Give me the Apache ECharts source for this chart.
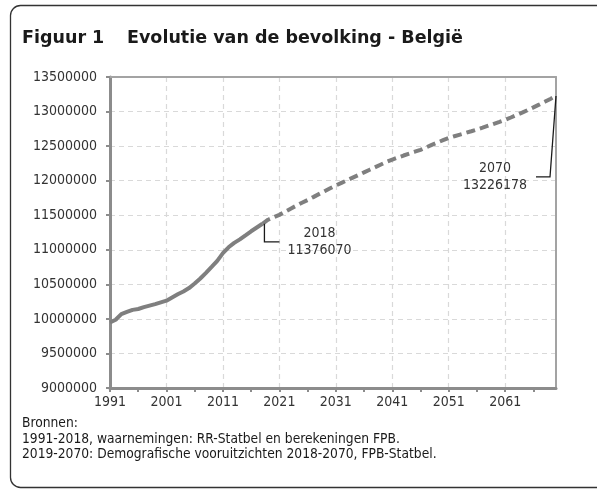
<!DOCTYPE html>
<html>
<head>
<meta charset="utf-8">
<script src="https://cdn.jsdelivr.net/npm/echarts@6/dist/echarts.min.js"></script>
<style>
  html, body { margin: 0; padding: 0; background: #fff; }
  #chart { width: 597px; height: 491px; }
</style>
</head>
<body>
<div id="chart"></div>
<script>
// Bevolking België op 1 januari: waarnemingen 1991-2018, vooruitzichten 2019-2070
const years = [];
for (let y = 1991; y <= 2070; y++) years.push(String(y));

const observed = [
  9947782, 9986975, 10068319, 10100631, 10130574, 10143047, 10170226, 10192264,
  10213752, 10239085, 10263414, 10309725, 10355844, 10396421, 10445852, 10511382,
  10584534, 10666866, 10753080, 10839905, 10951266, 11035948, 11099554, 11150516,
  11209044, 11267910, 11322088, 11376070
];

const projected = [
  11435000, 11470000, 11505000, 11550000, 11595000, 11638000, 11680000, 11720000,
  11762000, 11805000, 11848000, 11890000, 11930000, 11968000, 12006000, 12044000,
  12082000, 12120000, 12158000, 12196000, 12234000, 12272000, 12305000, 12335000,
  12364000, 12392000, 12419000, 12446000, 12482000, 12518000, 12552000, 12586000,
  12618000, 12643000, 12667000, 12691000, 12715000, 12740000, 12767000, 12795000,
  12823000, 12851000, 12880000, 12914000, 12949000, 12985000, 13022000, 13060000,
  13100000, 13141000, 13183000, 13226178
];

const annotations = [
  { year: '2018', value: 11376070 },
  { year: '2070', value: 13226178 }
];

const FONT = '"DejaVu Sans Condensed", "DejaVu Sans", sans-serif';
const TITLE_FONT = 'bold 17.5px "DejaVu Sans", sans-serif';
const LINE = '#7f7f7f';
const AXIS = '#8c8c8c';

// solid tot 2018, gestreept vanaf 2018
const solidData = years.map((y, i) => i < observed.length ? observed[i] : '-');
const dashData = years.map((y, i) => {
  if (i < observed.length - 1) return '-';
  if (i === observed.length - 1) return observed[i];
  return projected[i - observed.length];
});

const chart = echarts.init(document.getElementById('chart'));

chart.setOption({
  animation: false,
  textStyle: { fontFamily: FONT },
  graphic: [
    {
      type: 'rect', silent: true, z: -1,
      shape: { x: 10.5, y: 5.5, width: 640, height: 482, r: 10 },
      style: { fill: '#fff', stroke: '#333', lineWidth: 1.3 }
    },
    {
      type: 'text', left: 22, top: 29,
      style: { text: 'Figuur 1', font: TITLE_FONT, fill: '#1a1a1a' }
    },
    {
      type: 'text', left: 127, top: 29,
      style: { text: 'Evolutie van de bevolking - België', font: TITLE_FONT, fill: '#1a1a1a' }
    },
    {
      type: 'text', left: 22, top: 416,
      style: {
        text: 'Bronnen:\n1991-2018, waarnemingen: RR-Statbel en berekeningen FPB.\n2019-2070: Demografische vooruitzichten 2018-2070, FPB-Statbel.',
        font: '13.7px ' + FONT, lineHeight: 15.5, fill: '#1a1a1a'
      }
    }
  ],
  grid: { left: 110, top: 77, right: 41, bottom: 103 },
  xAxis: [
    {
      type: 'category',
      data: years,
      boundaryGap: false,
      axisLine: { lineStyle: { color: AXIS, width: 3 } },
      axisTick: { interval: 4, length: 4, lineStyle: { color: AXIS, width: 2 } },
      axisLabel: { interval: 9, margin: 7, fontSize: 14, color: '#333', fontFamily: FONT },
      splitLine: { show: true, interval: 9, lineStyle: { color: '#d9d9d9', type: [5, 4], width: 1.2 } }
    },
    {
      type: 'category', position: 'top', data: years, boundaryGap: false,
      axisLine: { lineStyle: { color: '#a3a3a3', width: 2 } },
      axisTick: { show: false }, axisLabel: { show: false }, splitLine: { show: false }
    }
  ],
  yAxis: [
    {
      type: 'value',
      min: 9000000, max: 13500000, interval: 500000,
      axisLine: { show: true, lineStyle: { color: AXIS, width: 3 } },
      axisTick: { show: true, length: 4, lineStyle: { color: AXIS, width: 2 } },
      axisLabel: { margin: 13, fontSize: 14, color: '#333', fontFamily: FONT, formatter: v => String(v) },
      splitLine: { show: true, lineStyle: { color: '#d9d9d9', type: [5, 4], width: 1.2 } }
    },
    {
      type: 'value', position: 'right',
      min: 9000000, max: 13500000, interval: 500000,
      axisLine: { show: true, lineStyle: { color: '#a3a3a3', width: 2 } },
      axisTick: { show: false }, axisLabel: { show: false }, splitLine: { show: false }
    }
  ],
  series: [
    {
      type: 'line', data: solidData, symbol: 'none', z: 3,
      lineStyle: { color: LINE, width: 4 }
    },
    {
      type: 'line', data: dashData, symbol: 'none', z: 3,
      lineStyle: { color: LINE, width: 4, type: [9, 5] }
    },
    {
      type: 'custom', z: 4,
      data: annotations.map(a => [a.year, a.value]),
      renderItem: function (params, api) {
        const p = api.coord([api.value(0), api.value(1)]);
        const a = annotations[params.dataIndex];
        const label = a.year + '\n' + a.value;
        let pts, tx, ty;
        if (params.dataIndex === 0) {
          pts = [[p[0] + 2, p[1]], [p[0] + 2, p[1] + 18], [p[0] + 17, p[1] + 18]];
          tx = p[0] + 57; ty = p[1] + 18;
        } else {
          pts = [[p[0], p[1]], [p[0] - 6, p[1] + 81], [p[0] - 20, p[1] + 81]];
          tx = p[0] - 61; ty = p[1] + 81;
        }
        return {
          type: 'group',
          children: [
            { type: 'polyline', shape: { points: pts }, style: { stroke: '#1a1a1a', lineWidth: 1.3, fill: null } },
            {
              type: 'text', x: tx, y: ty,
              style: {
                text: label, font: '14px ' + FONT, fill: '#333',
                align: 'center', verticalAlign: 'middle', lineHeight: 17
              }
            }
          ]
        };
      }
    }
  ]
});
</script>
</body>
</html>
